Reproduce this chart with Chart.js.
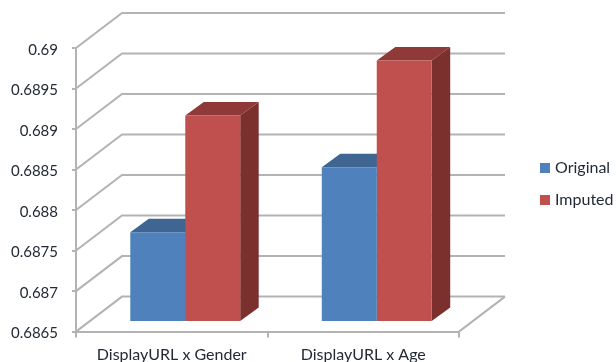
<!DOCTYPE html>
<html>
<head>
<meta charset="utf-8">
<style>
    html, body { margin: 0; padding: 0; background: #fff; }
    canvas { display: block; }
</style>
<script src="https://cdn.jsdelivr.net/npm/chart.js@4"></script>
</head>
<body>
<canvas id="myChart" width="616" height="362"></canvas>
<script>
const categories = ['DisplayURL x Gender', 'DisplayURL x Age'];
const original = [0.68761, 0.68841];
const imputed = [0.68905, 0.68973];
const tickValues = [0.6865, 0.687, 0.6875, 0.688, 0.6885, 0.689, 0.6895, 0.69];

const GRID = '#b3b3b3';
const TEXT = '#222b35';
const FONT = { family: 'Lato', size: 16 };
const COLORS = ['#4f81bd', '#c0504d'];

// how far the back wall sits behind the axes, and how deep each bar is
const WALL = { x: 46, y: -35 };
const DEPTH = { x: 18.5, y: -13.5 };
// bars stand on the floor, part way between the axes and the back wall
const BAR_SHIFT = { x: 13.5, y: -9.5 };

const shades = [
    { top: '#3f6593', side: '#39597f' },
    { top: '#8f3a38', side: '#7b302e' }
];

function extrude(ctx, bar, shade) {
    const left = bar.x - bar.width / 2;
    const right = bar.x + bar.width / 2;

    ctx.fillStyle = shade.top;
    ctx.beginPath();
    ctx.moveTo(left, bar.y);
    ctx.lineTo(left + DEPTH.x, bar.y + DEPTH.y);
    ctx.lineTo(right + DEPTH.x, bar.y + DEPTH.y);
    ctx.lineTo(right, bar.y);
    ctx.closePath();
    ctx.fill();

    ctx.fillStyle = shade.side;
    ctx.beginPath();
    ctx.moveTo(right, bar.y);
    ctx.lineTo(right + DEPTH.x, bar.y + DEPTH.y);
    ctx.lineTo(right + DEPTH.x, bar.base + DEPTH.y);
    ctx.lineTo(right, bar.base);
    ctx.closePath();
    ctx.fill();
}

// legend swatch as a small canvas, so the text can sit closer than the default gap
function swatch(color) {
    const c = document.createElement('canvas');
    c.width = 10;
    c.height = 10;
    const g = c.getContext('2d');
    g.fillStyle = color;
    g.fillRect(0, 0, 10, 10);
    return c;
}

const boxes3d = {
    id: 'boxes3d',
    beforeLayout(chart) {
        // reserve the whole strip right of the plot for the legend
        const legend = chart.legend;
        const fit = legend.fit;
        legend.fit = function () {
            fit.call(this);
            this.width = 157;
        };
    },
    afterLayout(chart) {
        const legend = chart.legend;
        legend.left = 527;
        legend.top -= 6;
        legend.bottom -= 6;
    },
    beforeDatasetsDraw(chart) {
        const { ctx, chartArea, scales } = chart;

        // walls and floor
        ctx.save();
        ctx.strokeStyle = GRID;
        ctx.lineWidth = 2;
        ctx.beginPath();
        tickValues.forEach(v => {
            const y = scales.y.getPixelForValue(v);
            ctx.moveTo(chartArea.left, y);
            ctx.lineTo(chartArea.left + WALL.x, y + WALL.y);
            ctx.lineTo(chartArea.right + WALL.x, y + WALL.y);
        });
        ctx.moveTo(chartArea.right, chartArea.bottom);
        ctx.lineTo(chartArea.right + WALL.x, chartArea.bottom + WALL.y);
        ctx.stroke();
        ctx.restore();

        ctx.save();
        ctx.translate(BAR_SHIFT.x, BAR_SHIFT.y);
        chart.data.datasets.forEach((ds, i) => {
            chart.getDatasetMeta(i).data.forEach(bar => extrude(ctx, bar, shades[i]));
        });
    },
    afterDatasetsDraw(chart) {
        chart.ctx.restore();
    }
};

new Chart(document.getElementById('myChart').getContext('2d'), {
    type: 'bar',
    data: {
        labels: categories,
        datasets: [
            { label: 'Original', data: original, base: tickValues[0], backgroundColor: COLORS[0] },
            { label: 'Imputed', data: imputed, base: tickValues[0], backgroundColor: COLORS[1] }
        ]
    },
    options: {
        responsive: false,
        animation: false,
        barPercentage: 1,
        categoryPercentage: 0.574,
        clip: false,
        layout: { padding: { top: 48 } },
        scales: {
            x: {
                afterFit: s => { s.height = 30.4; },
                border: { color: GRID, width: 2 },
                grid: { drawOnChartArea: false, color: GRID, lineWidth: 2, tickLength: 6 },
                ticks: { color: TEXT, font: FONT, padding: 8 }
            },
            y: {
                min: 0.6865,
                max: 0.69,
                afterFit: s => { s.width = 76; },
                afterBuildTicks: s => { s.ticks = tickValues.map(value => ({ value })); },
                border: { color: GRID, width: 2 },
                grid: { drawOnChartArea: false, color: GRID, lineWidth: 2, tickLength: 4 },
                ticks: {
                    color: TEXT,
                    font: { family: 'Lato', size: 15 },
                    padding: 14,
                    labelOffset: 2,
                    callback: v => String(v)
                }
            }
        },
        plugins: {
            tooltip: { enabled: false },
            legend: {
                position: 'right',
                align: 'center',
                fullSize: false,
                labels: {
                    color: TEXT,
                    font: FONT,
                    usePointStyle: true,
                    pointStyleWidth: 4,
                    boxHeight: 10,
                    padding: 16,
                    generateLabels: chart => Chart.defaults.plugins.legend.labels.generateLabels(chart)
                        .map((item, i) => ({ ...item, pointStyle: swatch(COLORS[i]) }))
                }
            }
        }
    },
    plugins: [boxes3d]
});
</script>
</body>
</html>
